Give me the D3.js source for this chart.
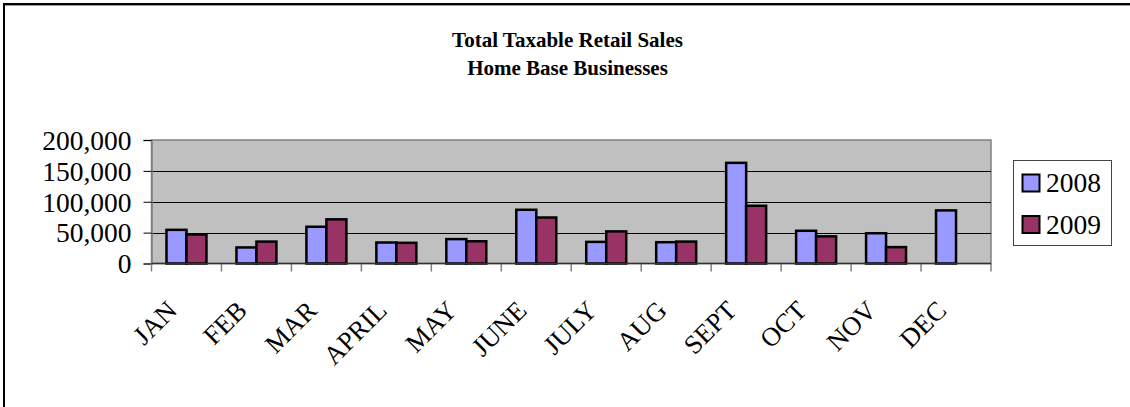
<!DOCTYPE html>
<html>
<head>
<meta charset="utf-8">
<script src="https://cdn.jsdelivr.net/npm/d3@7"></script>
<style>
  html, body { margin: 0; padding: 0; background: #fff; }
  svg { display: block; }
</style>
</head>
<body>
<svg id="chart" width="1130" height="407"></svg>
<script>
const months = ["JAN","FEB","MAR","APRIL","MAY","JUNE","JULY","AUG","SEPT","OCT","NOV","DEC"];
const series = ["2008","2009"];
const sales2008 = [54500, 26000, 59500, 34000, 39500, 87000, 35000, 34500, 163000, 53000, 49000, 86000];
const sales2009 = [47000, 35500, 71500, 33500, 36000, 74500, 52000, 35500, 93500, 44000, 26500, null];
const yTicks = [0, 50000, 100000, 150000, 200000];
const titleLines = ["Total Taxable Retail Sales", "Home Base Businesses"];
const colors = {"2008": "#9999FF", "2009": "#993366"};

(function () {
const svg = d3.select("#chart");
const font = "'Liberation Serif', 'Times New Roman', serif";

// outer frame (top and left edges)
svg.append("line").attr("x1", 3).attr("x2", 1130).attr("y1", 5.5).attr("y2", 5.5).attr("stroke", "#999").attr("stroke-width", 1);
svg.append("line").attr("x1", 3).attr("x2", 1130).attr("y1", 4).attr("y2", 4).attr("stroke", "#000").attr("stroke-width", 2);
svg.append("line").attr("x1", 4).attr("x2", 4).attr("y1", 3).attr("y2", 407).attr("stroke", "#000").attr("stroke-width", 2);

// title
const title = svg.append("text").attr("x", 567.5).attr("y", 47)
  .attr("text-anchor", "middle").attr("font-family", font).attr("font-weight", "bold").attr("font-size", 21);
titleLines.forEach((t, i) => title.append("tspan").attr("x", 567.5).attr("dy", i === 0 ? 0 : 28).text(t));

const pLeft = 151.5, pRight = 991, pTop = 140, pBottom = 263.5;

const x = d3.scaleBand().domain(months).range([pLeft, pRight]).paddingInner(30/70).paddingOuter(15/70);
const xs = d3.scaleBand().domain(series).range([0, x.bandwidth()]);
const y = d3.scaleLinear().domain([0, 200000]).range([pBottom, pTop]);

// plot background
svg.append("rect").attr("x", pLeft).attr("y", pTop).attr("width", pRight - pLeft).attr("height", pBottom - pTop)
  .attr("fill", "#C0C0C0").attr("stroke", "#808080").attr("stroke-width", 1.5);

// gridlines
svg.append("g").selectAll("line").data(yTicks.filter(d => d > 0 && d < 200000)).join("line")
  .attr("x1", pLeft).attr("x2", pRight).attr("y1", d => Math.round(y(d)) + 0.5).attr("y2", d => Math.round(y(d)) + 0.5)
  .attr("stroke", "#000").attr("stroke-width", 1);

// bars
const data = months.map((m, i) => ({m, vals: [{s: "2008", v: sales2008[i]}, {s: "2009", v: sales2009[i]}]}));
const groups = svg.append("g").selectAll("g").data(data).join("g")
  .attr("transform", d => `translate(${x(d.m)},0)`);
groups.selectAll("rect").data(d => d.vals.filter(e => e.v != null)).join("rect")
  .attr("x", d => xs(d.s)).attr("width", xs.bandwidth())
  .attr("y", d => y(d.v)).attr("height", d => pBottom - y(d.v))
  .attr("fill", d => colors[d.s]).attr("stroke", "#000").attr("stroke-width", 2.5);

// y axis
const yAxis = svg.append("g").attr("transform", `translate(${pLeft},0)`)
  .call(d3.axisLeft(y).tickValues(yTicks).tickSize(8).tickPadding(12).tickFormat(d3.format(",")));
yAxis.attr("font-family", font).attr("font-size", 27.5);
yAxis.select(".domain").attr("stroke", "#808080").attr("stroke-width", 1.5);
yAxis.selectAll(".tick line").attr("stroke", "#000");
yAxis.selectAll("text").attr("font-family", font).attr("font-size", 27.5).attr("fill", "#000").attr("dy", "0.34em");

// x axis
const boundaries = d3.range(months.length + 1).map(i => pLeft + i * (pRight - pLeft) / months.length);
svg.append("g").selectAll("line").data(boundaries).join("line")
  .attr("x1", d => d).attr("x2", d => d).attr("y1", pBottom).attr("y2", pBottom + 8)
  .attr("stroke", "#808080").attr("stroke-width", 1.5);
svg.append("line").attr("x1", pLeft).attr("x2", pRight).attr("y1", pBottom).attr("y2", pBottom)
  .attr("stroke", "#333").attr("stroke-width", 1.5);

svg.append("g").selectAll("text").data(months).join("text")
  .attr("transform", d => `translate(${x(d) + x.bandwidth()/2 - 8},${312}) rotate(-45)`)
  .attr("text-anchor", "end").attr("font-family", font).attr("font-size", 26.5).attr("fill", "#000")
  .text(d => d);

// legend
const lg = svg.append("g");
lg.append("rect").attr("x", 1013.5).attr("y", 160.5).attr("width", 98).attr("height", 85)
  .attr("fill", "#fff").attr("stroke", "#444").attr("stroke-width", 1);
series.forEach((s, i) => {
  const cy = 183 + i * 41.5;
  lg.append("rect").attr("x", 1022.5).attr("y", cy - 8.5).attr("width", 17).attr("height", 17)
    .attr("fill", colors[s]).attr("stroke", "#000").attr("stroke-width", 2);
  lg.append("text").attr("x", 1046).attr("y", cy + 9).attr("font-family", font).attr("font-size", 27.5)
    .attr("fill", "#000").text(s);
});
})();
</script>
</body>
</html>
